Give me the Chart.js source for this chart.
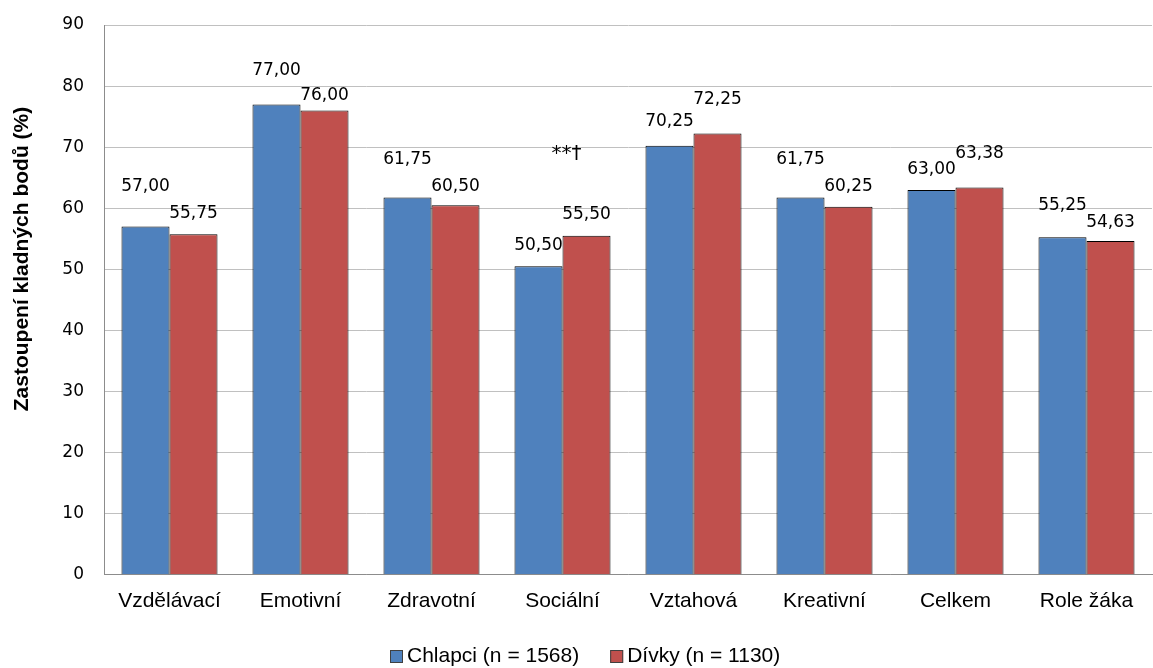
<!DOCTYPE html>
<html>
<head>
<meta charset="utf-8">
<script src="https://cdn.jsdelivr.net/npm/chart.js@4.4.0/dist/chart.umd.min.js"></script>
<style>
  html, body { margin: 0; padding: 0; background: #fff; }
  #wrap { width: 1153px; height: 668px; }
</style>
</head>
<body>
<div id="wrap"><canvas id="myChart" width="1153" height="668"></canvas></div>
<script>
// data
var categories = ["Vzdělávací", "Emotivní", "Zdravotní", "Sociální", "Vztahová", "Kreativní", "Celkem", "Role žáka"];
var chlapci = [57.00, 77.00, 61.75, 50.50, 70.25, 61.75, 63.00, 55.25];
var divky   = [55.75, 76.00, 60.50, 55.50, 72.25, 60.25, 63.38, 54.63];
var seriesNames = ["Chlapci (n = 1568)", "Dívky (n = 1130)"];
var yTicks = [0, 10, 20, 30, 40, 50, 60, 70, 80, 90];
var yTitle = "Zastoupení kladných bodů (%)";
var note = { category: 3, value: 68.9, text: "**\u2020" };

// how far above the bar top each value label sits (px)
var liftBlue = [40, 34, 38, 21, 24, 38, 20, 32];
var liftRed  = [21, 15, 19, 21, 34, 20, 34, 18];

var valueLabels = {
  id: "valueLabels",
  afterDatasetsDraw: function(chart) {
    var ctx = chart.ctx;
    ctx.save();
    ctx.font = "17px 'DejaVu Sans'";
    ctx.fillStyle = "#000";
    ctx.textAlign = "center";
    ctx.textBaseline = "middle";
    chart.data.datasets.forEach(function(ds, di) {
      var meta = chart.getDatasetMeta(di);
      var lifts = di == 0 ? liftBlue : liftRed;
      meta.data.forEach(function(bar, i) {
        var txt = ds.data[i].toFixed(2).replace(".", ",");
        ctx.fillText(txt, bar.x, bar.y - lifts[i]);
      });
    });
    // significance mark
    var xs = chart.scales.x, ys = chart.scales.y;
    ctx.font = "20px 'DejaVu Sans'";
    ctx.fillText(note.text, xs.getPixelForValue(note.category) + 4, ys.getPixelForValue(note.value));
    ctx.restore();
  }
};

// legend + y title, placed like the original (title sits above the middle)
var extras = {
  id: "extras",
  afterDraw: function(chart) {
    var ctx = chart.ctx;
    ctx.save();
    ctx.font = "21px 'Liberation Sans', Arial";
    ctx.textBaseline = "middle";
    var x = 390, y = 656;
    chart.data.datasets.forEach(function(ds, i) {
      ctx.fillStyle = ds.backgroundColor;
      ctx.fillRect(x, y - 6, 13, 13);
      ctx.strokeStyle = "#404040";
      ctx.lineWidth = 1;
      ctx.strokeRect(x + 0.5, y - 5.5, 12, 12);
      ctx.fillStyle = "#000";
      ctx.fillText(ds.label, x + 17, y);
      x += 17 + ctx.measureText(ds.label).width + 31;
    });

    ctx.translate(22, 259);
    ctx.rotate(-Math.PI / 2);
    ctx.font = "bold 21px 'Liberation Sans', Arial";
    ctx.textAlign = "center";
    ctx.fillText(yTitle, 0, 0);
    ctx.restore();
  }
};

var chartData = {
  labels: categories,
  datasets: [{
    label: seriesNames[0],
    data: chlapci,
    backgroundColor: "#4F81BD",
    borderColor: "#000",
    borderWidth: 1
  }, {
    label: seriesNames[1],
    data: divky,
    backgroundColor: "#C0504D",
    borderColor: "#000",
    borderWidth: 1
  }]
};

var chartConfig = {
  type: "bar",
  data: chartData,
  plugins: [valueLabels, extras],
  options: {
    responsive: false,
    animation: false,
    layout: { padding: { top: 25, right: 1, left: 0, bottom: 40 } },
    datasets: { bar: { categoryPercentage: 0.733, barPercentage: 1.0 } },
    plugins: {
      tooltip: { enabled: false },
      legend: { display: false }
    },
    scales: {
      x: {
        grid: { display: false, drawTicks: false },
        border: { display: true, color: "#8c8c8c" },
        ticks: {
          color: "#000",
          padding: 14,
          font: { family: "'Liberation Sans', Arial", size: 21 }
        }
      },
      y: {
        min: 0, max: 90,
        afterBuildTicks: function(scale) {
          scale.ticks = yTicks.map(function(v) { return { value: v }; });
        },
        afterFit: function(scale) { scale.width = 104; },
        grid: { color: "#c0c0c0", drawTicks: true, tickLength: 16, tickColor: "rgba(0,0,0,0)" },
        border: { display: true, color: "#8c8c8c" },
        ticks: {
          color: "#000",
          padding: 4,
          font: { family: "'DejaVu Sans'", size: 17 }
        }
      }
    }
  }
};

var myChart = new Chart(document.getElementById("myChart"), chartConfig);
</script>
</body>
</html>
